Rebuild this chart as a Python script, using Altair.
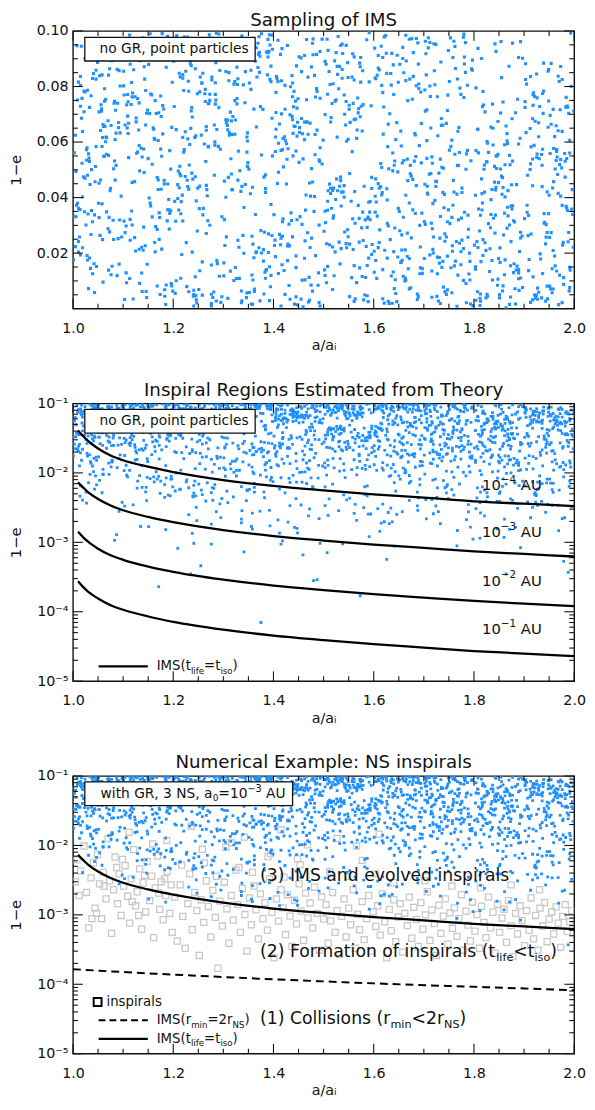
import altair as alt
import numpy as np
import pandas as pd

FONT = "DejaVu Sans"
BLUE = "#1e90ff"
GRAY = "#c8c8c8"
INK = "#111111"
W, H = 509, 282

# IMS sample: pairs (1000*(a/a_i - 1), 1e5*(1-e))
IMS = [
347,6182, 712,1937, 58,8421, 563,3075, 924,471, 281,9653, 836,4290, 109,7714, 675,2548, 492,5306,
874,2413, 156,9082, 429,5761, 618,356, 33,7249, 967,4830, 392,1507, 745,6674, 201,8915, 583,3198,
517,7390, 84,4628, 951,812, 263,9547, 779,2163, 438,6805, 604,8279, 172,3451, 889,5932, 326,1086,
247,205, 691,5873, 813,3362, 15,8046, 466,6719, 137,1284, 902,7458, 529,9801, 354,4137, 788,2570,
985,3624, 406,8357, 163,6093, 731,1842, 318,9275, 857,638, 71,5519, 642,2906, 551,7183, 224,4761,
658,9408, 371,2195, 724,4583, 118,7626, 845,5047, 590,3831, 276,94, 913,8362, 47,1519, 483,6270,
142,4905, 826,517, 538,9190, 309,6437, 667,2722, 92,8574, 756,3286, 415,5698, 938,7031, 253,1363,
451,5267, 976,3719, 288,1624, 804,305, 572,8842, 703,7115, 126,9370, 61,6558, 337,4402, 629,2981,
768,1208, 235,6491, 22,7835, 474,4053, 189,3564, 685,9727, 506,2340, 362,708, 821,5176, 949,8613,
39,8290, 545,7462, 612,2837, 991,5604, 217,1953, 384,4186, 437,6925, 868,3340, 793,166, 104,9538,
382,2751, 917,5390, 664,9846, 57,7108, 873,422, 209,3968, 561,8237, 738,1705, 145,6614, 426,4489,
706,6052, 183,679, 358,4371, 522,8925, 11,3610, 844,9267, 697,1441, 270,5823, 493,7577, 958,2094,
229,9781, 447,3203, 862,1759, 633,2486, 904,6338, 168,4725, 86,5160, 311,8499, 589,255, 772,7944,
534,4612, 819,7336, 66,6177, 241,512, 747,1894, 601,2069, 973,8720, 462,9115, 395,3752, 111,5441,
927,738, 649,8156, 418,2608, 152,3983, 343,7415, 28,5789, 296,9322, 577,6396, 714,4867, 886,1532,
175,7658, 5,2236, 783,8509, 962,5028, 409,9664, 556,1117, 324,6793, 851,388, 683,3429, 212,4354,
627,3077, 258,1685, 935,5552, 376,9899, 597,2312, 441,7826, 133,911, 74,4245, 808,6460, 751,8181,
838,5894, 514,6723, 195,3516, 457,1027, 266,4440, 729,276, 656,2659, 986,7292, 303,9604, 49,8867,
404,1876, 762,9446, 587,466, 892,6139, 121,8604, 944,2577, 19,4019, 671,3806, 284,7367, 349,5259,
94,6331, 333,4970, 273,7720, 719,2003, 638,5605, 101,8024, 879,1298, 486,9157, 956,573, 508,3545,
573,8713, 969,147, 364,3392, 186,9735, 735,6847, 42,1616, 616,5084, 811,2799, 478,4563, 237,7241,
216,3854, 677,7540, 8,9471, 856,4122, 431,835, 982,5308, 114,2465, 503,6988, 787,8048, 301,1180,
884,1391, 27,5727, 452,6519, 621,198, 159,9172, 367,8341, 740,3635, 282,4803, 998,2214, 542,7003,
781,9064, 469,6281, 138,617, 919,7777, 205,3147, 866,2902, 526,4673, 35,1450, 642,5316, 388,8421,
317,4281, 164,2047, 689,8806, 533,1611, 76,6597, 709,9392, 947,352, 423,7183, 834,3928, 294,5742,
908,2630, 592,3476, 848,1063, 225,8552, 355,7899, 614,4396, 499,6068, 178,9903, 62,5485, 766,89,
107,932, 703,9629, 244,4752, 412,6650, 933,1788, 327,7568, 53,8390, 663,2118, 519,3259, 827,5960,
694,7805, 873,1547, 971,5187, 2,3327, 548,2843, 147,400, 262,9028, 795,8634, 312,6245, 465,4091,
81,5037, 259,8478, 571,2395, 389,9220, 815,4676, 436,3174, 627,1822, 990,640, 727,7632, 126,6866,
448,6713, 374,7276, 752,3061, 685,4429, 230,8189, 926,5571, 893,2753, 15,1938, 192,9584, 561,261,
287,1734, 841,4558, 407,8278, 31,722, 654,6395, 516,3617, 398,9849, 913,5213, 776,2470, 132,7411,
724,9516, 70,2878, 965,5733, 579,7349, 336,216, 117,8145, 481,3504, 219,6169, 862,4025, 606,1091,
558,3240, 308,6602, 174,509, 951,2563, 897,9017, 748,7690, 6,4938, 672,8265, 421,1373, 270,5851,
101,8552, 641,5166, 822,7087, 341,1995, 58,3773, 249,4342, 770,6529, 455,345, 586,9682, 977,2286,
857,4718, 493,97, 39,1258, 716,5467, 153,7024, 621,9789, 905,8085, 359,2324, 206,6447, 535,3699,
379,7176, 508,3868, 227,9287, 668,4611, 989,2742, 84,6086, 168,814, 849,1803, 733,5384, 446,8745,
19,2192, 922,6751, 707,4410, 428,9476, 292,1166, 352,581, 525,7519, 659,3292, 184,8957, 804,5693,
631,186, 142,8711, 317,6275, 816,3555, 562,4219, 415,2540, 233,5914, 98,9255, 937,7749, 754,1475,
952,5588, 211,9010, 696,3442, 109,6935, 472,303, 889,1327, 395,8176, 717,2880, 44,4571, 541,7695,
487,6430, 779,1020, 54,2641, 264,7896, 603,8318, 941,3110, 827,452, 596,4727, 333,9717, 195,5024,
301,1649, 883,7057, 512,4484, 120,9599, 930,5402, 23,3491, 771,2355, 286,276, 652,8800, 439,6311,
679,8366, 90,2522, 251,690, 996,4287, 404,6182, 574,9045, 155,3701, 323,7491, 790,1248, 841,5125,
191,3932, 557,5656, 876,6840, 761,1541, 372,8508, 240,452, 617,4181, 417,9366, 11,2038, 918,7319,
804,7952, 362,621, 479,9142, 73,2766, 502,1396, 736,5091, 964,6586, 635,8049, 219,3158, 176,4302,
208,9627, 711,4845, 106,2978, 657,5244, 65,7530, 462,6724, 384,1097, 987,3537, 864,35, 528,8436,
581,4406, 954,6641, 665,8920, 346,398, 273,3005, 852,2191, 29,7868, 160,9442, 491,5362, 727,1858,
67,6161, 453,3316, 921,7643, 519,8099, 745,515, 129,9694, 871,5519, 237,4880, 380,1712, 693,2219,
789,2861, 624,9839, 357,1213, 401,3386, 816,4142, 902,7247, 295,227, 553,6707, 136,5779, 46,8585,
979,874, 113,1088, 33,5298, 838,6498, 609,9118, 329,4631, 549,8326, 742,2427, 444,7474, 260,3611,
426,5937, 277,8239, 769,3199, 914,2690, 170,6057, 590,1822, 688,9570, 82,7399, 807,608, 305,4014,
147,7037, 959,5766, 442,164, 605,3841, 366,9395, 791,2001, 224,6372, 875,4461, 92,1605, 513,8074,
648,4926, 314,1350, 24,9003, 282,6616, 893,2547, 537,8613, 940,3078, 483,5542, 716,413, 119,7765,
818,1917, 564,6824, 231,4300, 734,8885, 489,842, 181,7189, 660,5337, 339,2639, 993,9931, 52,3280,
344,9352, 13,3566, 866,6049, 577,1159, 925,5454, 687,334, 125,2075, 705,8419, 253,7808, 408,4513,
758,3726, 473,2203, 530,7920, 158,5199, 244,8640, 973,4054, 389,9061, 60,957, 619,6287, 889,1404,
77,8932, 674,753, 140,2106, 371,9791, 509,4246, 834,6539, 417,1580, 909,3361, 787,5700, 202,7282,
552,2324, 236,7117, 948,8548, 821,4197, 1,1763, 435,3450, 798,111, 630,5035, 185,9176, 319,6922,
266,6558, 855,4774, 662,1002, 43,584, 722,3899, 393,9495, 595,7306, 165,2953, 438,8128, 981,5588,
936,5167, 783,9580, 303,2273, 466,7525, 646,6700, 88,1189, 218,4089, 505,8800, 881,3120, 103,332,
459,66, 150,5404, 753,9750, 692,3000, 328,8071, 245,6223, 814,1694, 36,7669, 917,4428, 542,2761,
603,3476, 994,8010, 132,5877, 491,219, 57,7196, 508,1524, 348,6038, 780,9887, 229,4397, 859,2654,
386,9247, 582,491, 807,6460, 210,4959, 745,2579, 9,3798, 968,8372, 601,1311, 171,7055, 420,5106,
96,4052, 248,7740, 463,2440, 929,6192, 842,9535, 655,5860, 199,630, 571,3253, 767,8269, 361,1835,
893,1102, 611,2384, 257,8117, 116,9307, 398,5502, 738,6614, 524,3930, 447,7222, 21,4744, 953,713,
515,6880, 48,9649, 392,289, 701,3134, 189,4490, 476,8709, 640,2054, 829,5630, 910,1771, 285,7508,
172,2497, 351,5026, 984,3685, 63,7922, 566,938, 200,9118, 725,4577, 682,6310, 870,8732, 410,1264,
712,8021, 876,3590, 83,7464, 535,2161, 669,1436, 943,270, 427,5380, 154,9902, 316,6764, 239,4666,
279,404, 433,6983, 626,4318, 846,5497, 976,8255, 107,7338, 30,3408, 375,2812, 760,9632, 596,1957,
918,7707, 76,1219, 558,9180, 369,8683, 419,3236, 824,2098, 266,6427, 708,4119, 687,529, 129,5643,
497,5209, 776,4339, 111,6679, 618,1405, 272,9860, 356,169, 801,2289, 999,7119, 14,3572, 503,8907,
51,9472, 867,3651, 324,1482, 549,6103, 673,4857, 214,8349, 926,7591, 183,445, 468,2733, 794,5328,
656,2112, 124,7632, 739,5059, 297,3309, 958,706, 452,6348, 71,9159, 335,4224, 880,1617, 511,8543,
302,4591, 935,390, 574,8157, 889,9044, 141,2935, 771,5623, 643,1042, 26,3013, 221,7857, 405,6461,
848,6740, 265,5302, 39,3129, 475,847, 383,1310, 166,7026, 532,4406, 732,2540, 970,8186, 676,9723,
587,1555, 634,8470, 412,2677, 133,4963, 714,6507, 906,3722, 290,5846, 808,9375, 358,155, 89,7396,
203,3865, 5,6245, 854,9619, 961,1895, 440,7272, 664,4085, 756,573, 340,8060, 545,2344, 177,5487,
785,212, 391,9266, 609,4502, 18,7574, 520,3347, 837,1033, 114,8804, 443,6559, 213,5131, 988,2411,
143,8266, 501,2788, 246,318, 767,5159, 815,9009, 60,6631, 901,3244, 659,1169, 486,7927, 310,4728,
418,5727, 831,1340, 949,7480, 376,2004, 34,4473, 720,9541, 561,6806, 227,795, 158,3306, 690,8093,
972,7165, 457,3037, 197,6527, 639,8780, 258,488, 576,2908, 337,9828, 67,5562, 707,4162, 861,1220,
365,2019, 742,611, 73,8639, 937,5741, 615,9452, 276,1571, 844,4367, 422,6188, 116,7350, 593,3203,
684,5482, 231,7829, 521,1183, 871,3015, 179,6294, 41,8465, 470,241, 954,2737, 309,9354, 759,4620,
11,8157, 536,4198, 718,3781, 286,9920, 438,2585, 991,6064, 102,7694, 347,569, 667,1878, 825,5295,
897,760, 188,3161, 405,7788, 567,6432, 792,1031, 316,4849, 625,9200, 254,8341, 912,5010, 97,2581,
238,6904, 655,1687, 985,5409, 55,4635, 364,8911, 812,115, 559,2132, 781,3471, 455,9033, 149,7151,
514,4335, 903,8819, 381,528, 137,2210, 867,5945, 640,7713, 86,6322, 479,9715, 749,3558, 206,1003,
704,9178, 27,5345, 268,4066, 697,1272, 940,3423, 192,2866, 344,8537, 853,7047, 580,317, 462,6088,
118,3012, 434,7994, 671,9701, 323,8183, 70,6766, 785,5576, 979,1119, 215,4791, 822,2372, 518,689,
956,1437, 397,6856, 833,2913, 416,7014, 222,9790, 555,3869, 726,443, 3,5616, 611,8598, 170,4292,
449,7560, 818,2486, 162,6134, 733,186, 541,4017, 292,9517, 607,3331, 992,1383, 45,5119, 329,8280,
644,548, 123,4577, 931,7279, 211,3553, 484,1909, 862,5182, 373,9091, 527,8725, 774,2052, 64,6571,
277,8344, 763,1714, 414,2300, 17,9451, 628,5834, 306,6693, 946,4205, 196,901, 877,3708, 570,7205,
32,5421, 355,9587, 504,3098, 849,4540, 110,7451, 923,380, 693,1468, 432,2261, 283,6005, 797,8951,
808,2203, 589,3295, 91,6706, 660,8497, 747,676, 145,7859, 252,9418, 964,5337, 471,1128, 384,4819,
546,6029, 976,219, 701,1806, 330,5674, 80,3185, 423,8041, 896,2618, 263,7740, 638,4961, 157,9290,
321,1015, 270,7388, 678,4650, 531,2398, 912,6489, 37,3530, 722,8066, 128,9661, 858,821, 493,5793,
730,4883, 695,5250, 189,9806, 445,426, 390,2694, 803,1510, 568,7587, 19,6379, 997,3392, 234,8818,
139,9039, 59,6166, 395,8733, 965,1356, 843,4273, 241,97, 410,5958, 649,3612, 508,7722, 718,2134,
464,3550, 523,2046, 812,373, 104,6614, 228,9623, 784,5019, 75,4332, 311,8207, 604,1733, 939,7837,
920,5879, 889,1284, 215,3416, 52,7087, 578,8569, 616,4094, 176,6919, 757,2266, 369,9559, 478,633,
627,3915, 284,8136, 851,506, 473,6682, 38,9217, 946,2743, 315,5398, 569,7051, 182,4624, 736,1487,
164,7493, 719,2581, 348,5126, 927,341, 552,4867, 71,8409, 836,1735, 205,9672, 683,6254, 491,3008,
813,265, 46,5841, 537,9528, 269,3164, 774,7716, 332,1092, 968,6407, 611,4341, 428,2259, 151,8798,
456,6849, 909,1368, 117,3517, 647,9125, 376,5533, 702,4478, 15,8362, 882,719, 575,7287, 238,2036,
392,9861, 518,4259, 747,7134, 59,2487, 148,1601, 817,3806, 297,428, 441,6577, 975,5072, 664,8214,
932,1973, 602,9384, 24,4702, 763,8651, 419,6128, 186,851, 588,3246, 357,2610, 844,5497, 271,7380,
83,5319, 309,372, 652,2804, 129,7568, 954,8835, 534,9479, 467,6733, 788,3367, 244,1151, 803,4083,
546,2193, 866,6305, 212,8478, 381,4735, 637,197, 404,5662, 758,9044, 106,1290, 7,3724, 984,7609,
721,8566, 193,3429, 445,1477, 872,5184, 226,2378, 690,7927, 52,4516, 917,6839, 336,634, 509,9301,
253,4411, 487,7825, 961,6196, 561,1548, 829,3062, 144,2267, 616,8043, 31,5575, 709,9756, 373,281,
671,712, 995,3583, 327,8697, 69,9031, 751,5709, 287,6451, 132,2142, 858,4359, 523,7472, 462,1816,
361,7187, 18,5235, 891,2061, 584,1124, 167,9596, 738,4188, 433,339, 906,3472, 219,8303, 629,6644,
842,2722, 414,9159, 603,4046, 197,819, 573,6912, 983,7256, 62,5483, 235,8922, 385,1384, 775,3259,
108,6506, 648,1862, 591,9935, 944,3027, 29,4805, 352,8126, 713,7639, 871,154, 476,2539, 262,5928,
557,8337, 228,4624, 93,3193, 458,6297, 924,487, 803,1419, 679,9222, 175,5746, 742,2695, 314,7078,
965,5664, 784,906, 179,7313, 305,8540, 664,1021, 429,2329, 246,3883, 87,9467, 826,6018, 541,4432,
497,9708, 126,6726, 937,1264, 622,2105, 887,7542, 43,3378, 514,4147, 393,8259, 204,549, 769,5152,
78,1526, 548,8862, 706,5413, 267,4287, 341,3641, 913,226, 864,6578, 403,2469, 636,9194, 155,7733,
733,3318, 366,2045, 241,663, 818,7821, 482,8402, 566,6131, 113,9856, 657,1742, 959,4573, 37,5006,
276,183, 837,7364, 451,9073, 727,1257, 161,6462, 675,4771, 978,2386, 503,3514, 58,5839, 321,8084,
596,4327, 11,2418, 644,6089, 398,9342, 852,1669, 293,8576, 418,3129, 929,592, 780,7605, 138,5462,
877,9564, 347,5637, 173,3283, 991,764, 609,2198, 716,1356, 24,7809, 256,6251, 532,8725, 482,4038,
312,6337, 689,438, 903,8254, 36,2671, 232,5172, 466,9691, 528,4244, 774,1583, 154,3801, 858,7442,
192,3559, 952,6962, 512,2304, 741,4117, 85,7147, 826,5288, 629,269, 372,9228, 445,1903, 219,8431,
618,7779, 431,3045, 283,5891, 591,8168, 946,812, 55,6416, 359,1032, 168,2853, 893,9617, 724,4398,
918,1143, 207,9833, 885,4466, 141,5751, 302,3206, 559,7394, 765,2417, 94,8021, 695,6672, 448,137,
416,8209, 792,1701, 63,7468, 834,3392, 545,9481, 120,347, 213,4862, 681,5314, 380,2126, 976,6383,
13,2581, 182,4492, 394,788, 658,9009, 728,6226, 939,8844, 405,7062, 879,3167, 222,5728, 572,1468,
754,5846, 537,8299, 671,1806, 291,7239, 104,2739, 366,6541, 809,3588, 968,4151, 41,9412, 423,514,
229,6114, 389,9696, 848,5562, 71,1387, 626,8473, 703,3036, 146,619, 585,2244, 958,7178, 472,4527,
506,931, 982,4738, 438,7631, 110,6308, 259,3377, 663,1106, 99,9143, 797,8586, 329,2462, 820,5023,
861,3442, 632,7018, 28,1916, 549,2588, 493,9262, 245,468, 936,4393, 308,6788, 717,5237, 186,8692,
115,9421, 72,3289, 766,4125, 337,286, 971,1209, 424,6047, 551,7327, 809,5611, 607,8407, 248,2799,
654,1665, 459,5394, 134,8927, 868,4252, 17,6856, 507,9703, 390,2021, 273,7502, 921,491, 747,3131,
344,4469, 890,658, 948,6531, 685,8028, 578,3475, 163,2382, 215,1097, 47,9355, 439,5503, 706,7159,
987,7252, 33,1824, 252,3602, 476,5045, 779,9778, 318,4283, 641,722, 527,6176, 123,2557, 855,8319,
402,2274, 236,8749, 563,353, 712,9586, 667,5386, 874,3693, 157,7701, 907,4806, 65,6012, 395,1197,
88,8617, 735,6602, 370,9166, 102,3154, 817,7275, 646,252, 962,1541, 445,5679, 520,4341, 266,2706,
762,5559, 177,2145, 839,3256, 503,1193, 281,599, 9,7516, 469,8338, 618,9047, 323,6279, 950,4086,
569,3719, 386,1404, 614,5228, 929,6693, 410,4915, 198,8156, 757,2067, 847,842, 291,9889, 56,7344,
202,9174, 668,7493, 81,2489, 883,166, 355,8584, 490,1287, 973,5366, 131,6435, 715,3081, 539,4207,
824,388, 160,6517, 781,8809, 221,5633, 943,2332, 593,3861, 338,9527, 604,4672, 22,7093, 428,1732,
305,6798, 957,4344, 463,1038, 46,8265, 678,3557, 749,9298, 813,528, 284,7715, 518,2219, 127,5599,
170,4638, 409,8175, 620,7264, 579,2454, 756,6069, 231,611, 6,3312, 991,1486, 877,5314, 362,9465,
692,1259, 51,3796, 914,5825, 327,7374, 139,9745, 832,2156, 544,6613, 456,8538, 739,775, 209,4467,
484,7624, 561,9066, 185,152, 760,4201, 29,1753, 966,5464, 257,8133, 348,6332, 651,3504, 806,2413,
925,8449, 276,521, 534,4736, 639,1322, 853,5028, 397,2636, 478,9557, 114,3217, 91,6521, 702,7876,
67,3486, 861,5901, 243,6163, 415,94, 587,2927, 609,8667, 731,1638, 989,7031, 149,9283, 384,4321,
768,6387, 331,2213, 34,9728, 949,3424, 264,7462, 118,4546, 673,5161, 552,433, 889,1076, 437,8391,
525,9219, 776,4182, 843,3368, 193,5693, 635,1174, 447,6214, 917,318, 285,8856, 306,2584, 15,7287,
]

# additional low-(1-e) IMS points visible on the log panels, same units
IMS_LOW = [
412,583, 87,129, 936,702, 255,46, 671,918, 503,337, 148,864, 789,275, 320,451, 864,690,
705,218, 361,977, 19,405, 582,631, 893,84, 226,746, 447,159, 958,523, 634,312, 171,889,
129,761, 846,390, 573,17, 307,548, 981,226, 45,905, 692,673, 238,135, 760,480, 415,852,
956,342, 278,615, 631,894, 83,107, 446,739, 719,258, 194,466, 507,71, 865,983, 362,527,
538,95, 692,816, 213,573, 907,382, 15,649, 374,930, 821,241, 466,704, 151,168, 749,427,
283,679, 14,463, 767,148, 439,921, 608,305, 852,532, 396,859, 171,23, 945,717, 530,286,
671,402, 109,874, 487,29, 902,655, 336,190, 243,763, 58,518, 815,947, 724,336, 591,121,
34,953, 926,577, 358,264, 641,88, 195,815, 877,402, 503,631, 412,136, 268,720, 789,349,
861,216, 457,738, 702,962, 293,357, 540,481, 128,604, 979,53, 615,189, 386,876, 26,529,
479,614, 235,35, 154,827, 688,288, 821,563, 393,172, 917,746, 72,951, 546,409, 760,860,
718,789, 594,256, 860,118, 47,672, 265,394, 931,905, 382,441, 626,57, 145,533, 409,210,
190,480, 771,692, 326,903, 509,245, 988,37, 653,811, 27,366, 846,157, 433,728, 214,584,
612,144, 348,556, 53,781, 874,999, 727,610, 480,28, 995,325, 161,876, 239,463, 566,207,
887,308, 60,947, 511,422, 135,169, 399,751, 209,82, 746,638, 922,519, 657,277, 304,895,
256,566, 418,105, 968,344, 723,812, 92,280, 587,650, 634,917, 341,73, 806,436, 175,759,
543,856, 817,631, 231,251, 375,7, 650,908, 98,377, 429,195, 162,742, 970,564, 704,412,
318,1472, 756,1038, 94,1815, 627,1296, 481,1663, 905,1127, 233,1904, 540,1351, 172,1589, 869,1740,
683,1206, 127,1938, 459,1547, 812,1081, 36,1374, 294,1692, 978,1413, 571,1865, 745,1059, 405,1728,
902,1635, 567,1190, 278,1027, 103,1781, 820,1449, 645,1973, 351,1306, 17,1522, 498,1258, 731,1857,
254,1911, 433,1364, 681,1702, 959,1095, 509,1280, 79,1476, 796,1623, 315,1144, 837,1818, 166,1039,
541,1087, 870,1529, 13,1263, 388,1946, 266,1710, 713,1385, 157,1831, 924,1617, 617,1172, 472,1499,
796,1759, 221,1602, 945,1931, 60,1122, 452,1018, 339,1446, 583,1287, 680,1883, 124,1535, 867,1350,
407,1319, 682,1875, 149,1460, 834,1658, 993,1211, 571,1777, 264,1134, 725,1999, 327,1586, 41,1047,
128,1564, 973,1245, 619,1093, 282,1330, 745,1852, 51,1707, 849,1468, 346,1921, 519,1619, 468,1176,
677,1826, 304,1117, 793,1641, 466,1389, 185,1273, 532,1058, 918,1712, 77,1434, 245,1960, 856,1528,
851,1401, 46,1693, 358,1820, 592,1236, 719,1574, 206,1967, 447,1152, 983,1300, 102,1075, 634,1745,
563,2714, 186,2390, 827,2068, 342,2856, 695,2531, 9,2177, 470,2963, 911,2425, 258,2602, 749,2289,
238,2155, 925,2810, 77,2473, 609,2926, 458,2064, 781,2347, 319,2681, 146,2519, 873,2200, 530,2790,
794,2603, 407,2018, 641,2378, 115,2740, 986,2931, 270,2225, 532,2862, 869,2486, 353,2111, 28,2657,
41,2889, 659,2562, 376,2247, 857,2404, 203,2020, 518,2995, 972,2710, 124,2334, 735,2179, 497,2623,
412,2439, 816,2718, 253,2946, 538,2082, 67,2265, 690,2581, 159,2806, 936,2140, 303,2372, 774,2911,
955,2056, 112,2637, 714,2833, 289,2297, 601,2478, 837,2761, 476,2159, 3,2590, 582,2904, 361,2315,
624,3482, 139,3817, 871,3105, 390,3653, 52,3279, 758,3961, 215,3538, 483,3046, 946,3724, 567,3390,
308,3168, 715,3597, 466,3843, 929,3327, 187,3031, 602,3712, 81,3476, 840,3259, 255,3935, 531,3604,
773,3884, 44,3240, 593,3419, 237,3077, 982,3566, 418,3792, 656,3133, 121,3355, 359,3958, 887,3621,
]

# inspirals (grey squares), pairs (1000*(a/a_i - 1), 1e6*(1-e))
INSPIRALS = [
8,6200, 15,4300, 22,9800, 27,2100, 31,650, 36,3400, 41,5600, 44,1250, 49,7400, 53,2800,
57,880, 61,4100, 66,1700, 70,12500, 73,3100, 77,540, 81,2300, 84,6800, 89,1450, 92,3900,
96,980, 101,2600, 104,5100, 109,1850, 113,760, 116,3300, 121,8700, 125,1350, 128,2150, 133,4600,
137,620, 140,2900, 145,1100, 148,5900, 153,1600, 157,3600, 161,470, 164,2450, 169,7100, 173,1200,
176,3000, 180,850, 185,1900, 188,4200, 193,1050, 196,2700, 12,1900, 38,880, 62,2600, 87,4800,
118,1550, 143,3700, 171,2050, 198,560, 5,3000, 47,1050, 99,6300, 131,980, 159,10500, 183,3300,
203,1800, 208,420, 214,2700, 219,950, 224,330, 229,1450, 233,3900, 238,610, 243,2100, 247,1150,
252,260, 256,1650, 261,780, 266,3100, 270,1320, 275,480, 279,2250, 284,920, 289,170, 293,1580,
298,690, 302,2950, 307,1220, 311,390, 316,1900, 320,840, 325,4400, 329,1400, 334,560, 338,2400,
343,1010, 347,300, 352,1750, 356,720, 361,2600, 365,1180, 370,450, 374,2000, 379,880, 383,1500,
388,600, 392,3300, 397,1090, 401,240, 406,1700, 410,810, 415,2300, 419,1260, 424,520, 428,1950,
433,960, 437,350, 442,1620, 446,740, 451,2800, 455,1130, 460,430, 464,2050, 469,900, 473,1480,
478,650, 482,2500, 487,1050, 491,310, 496,1820, 500,870, 217,5200, 286,3600, 358,4100, 421,3500,
258,8800, 394,7600, 448,6400, 316,11000,
505,1400, 509,390, 514,820, 518,2100, 523,560, 527,1150, 532,270, 536,950, 541,1700, 545,480,
550,1250, 554,720, 559,2300, 563,330, 568,1020, 572,610, 577,1550, 581,440, 586,880, 590,1900,
595,300, 599,1100, 604,680, 608,1350, 613,510, 617,2000, 622,790, 626,240, 631,1200, 635,590,
640,1650, 644,410, 649,930, 653,1450, 658,290, 662,1050, 667,700, 671,1800, 676,460, 680,1280,
685,860, 689,350, 694,1500, 698,620, 703,1000, 707,2150, 712,430, 716,1180, 721,750, 725,260,
730,1380, 734,540, 739,960, 743,1700, 748,380, 752,1070, 757,640, 761,1260, 766,490, 770,880,
775,1950, 779,310, 784,1130, 788,710, 793,420, 797,1520, 802,580, 806,1010, 811,330, 815,1330,
820,780, 824,470, 829,1800, 833,650, 838,1090, 842,280, 847,1420, 851,560, 856,900, 860,1200,
865,400, 869,1600, 874,700, 878,250, 883,1050, 887,530, 892,1350, 896,830, 901,360, 905,1150,
910,600, 914,1750, 919,450, 923,980, 928,310, 932,1250, 937,690, 941,1500, 946,410, 950,870,
955,1100, 959,530, 964,1300, 968,760, 973,340, 977,950, 982,1400, 986,580, 991,800, 995,1150,
112,15500, 187,11800, 236,18900, 305,9400, 342,13200, 415,16800, 468,10200, 527,12600, 566,9800, 611,14500,
262,5600, 331,4800, 389,6900, 453,5300, 512,4200, 577,6100, 548,3600, 603,3900, 640,2900, 702,3100,
756,2600, 813,2450, 874,2700, 931,2300,
]

# IMS(t_life = t_iso) curves for a0 = 1e-4, 1e-3, 1e-2, 1e-1 AU
CURVE_A = [1.01, 1.02, 1.03, 1.05, 1.075, 1.1, 1.15, 1.2, 1.3, 1.4, 1.5, 1.6, 1.7, 1.8, 1.9, 2.0]
C_1E4 = [0.041, 0.034, 0.029, 0.0225, 0.0178, 0.0152, 0.0123, 0.0103, 0.0079, 0.0065, 0.0056, 0.0049, 0.0044, 0.0039, 0.0036, 0.00333]
C_1E3 = [0.0073, 0.0062, 0.0053, 0.0042, 0.0034, 0.0029, 0.00232, 0.00195, 0.0015, 0.00123, 0.00106, 0.00093, 0.00083, 0.00074, 0.00068, 0.000625]
C_1E2 = [0.00142, 0.00119, 0.00102, 0.00081, 0.00065, 0.00056, 0.000448, 0.000376, 0.00029, 0.000238, 0.000205, 0.00018, 0.00016, 0.000143, 0.000131, 0.000121]
C_1E1 = [0.000275, 0.000228, 0.000195, 0.000155, 0.000124, 0.000107, 0.0000855, 0.0000716, 0.0000552, 0.0000453, 0.000039, 0.0000343, 0.0000305, 0.0000272, 0.000025, 0.000023]
# IMS(r_min = 2 r_NS)
DASH_A = [1.0, 1.1, 1.2, 1.3, 1.4, 1.5, 1.6, 1.7, 1.8, 1.9, 2.0]
DASH_Y = [1.65e-4, 1.5e-4, 1.38e-4, 1.27e-4, 1.18e-4, 1.1e-4, 1.03e-4, 9.7e-5, 9.2e-5, 8.7e-5, 8.2e-5]

X_MAJOR = [1.0, 1.2, 1.4, 1.6, 1.8, 2.0]
X_MINOR = [1.05, 1.1, 1.15, 1.25, 1.3, 1.35, 1.45, 1.5, 1.55, 1.65, 1.7, 1.75, 1.85, 1.9, 1.95]
LIN_MAJOR = [0.02, 0.04, 0.06, 0.08, 0.10]
LIN_MINOR = [0.005, 0.01, 0.015, 0.025, 0.03, 0.035, 0.045, 0.05, 0.055, 0.065, 0.07, 0.075, 0.085, 0.09, 0.095]
LOG_MAJOR = [1e-5, 1e-4, 1e-3, 1e-2, 1e-1]
LOG_MANT = [2, 3, 4, 5, 6, 7, 8, 9]
LOG_MINOR = [m * d for d in LOG_MAJOR[:-1] for m in LOG_MANT]

# ---------------------------------------------------------------- data frames
ims = np.array(IMS, dtype=float).reshape(-1, 2)
ims_df = pd.DataFrame({"x": 1 + ims[:, 0] / 1000, "y": ims[:, 1] * 1e-5})
low = np.array(IMS_LOW, dtype=float).reshape(-1, 2)
low_df = pd.DataFrame({"x": 1 + low[:, 0] / 1000, "y": low[:, 1] * 1e-5})
log_df = pd.concat([ims_df, low_df], ignore_index=True)
log_df = log_df[log_df["y"] >= 1e-5].reset_index(drop=True)

thr = 10 ** np.interp(log_df["x"], CURVE_A, np.log10(C_1E3))
keep = (log_df["y"] > thr) | (np.arange(len(log_df)) % 6 == 0)
gr_df = log_df[keep].reset_index(drop=True)

sq = np.array(INSPIRALS, dtype=float).reshape(-1, 2)
sq_df = pd.DataFrame({"x": 1 + sq[:, 0] / 1000, "y": sq[:, 1] * 1e-6})

curves = []
for name, vals in [("1e-4", C_1E4), ("1e-3", C_1E3), ("1e-2", C_1E2), ("1e-1", C_1E1)]:
    for a, v in zip(CURVE_A, vals):
        curves.append({"x": a, "y": v, "c": name})
curves_df = pd.DataFrame(curves)
solid_df = curves_df[curves_df["c"] == "1e-3"]
dash_df = pd.DataFrame({"x": DASH_A, "y": DASH_Y})

ONE = pd.DataFrame({"k": [0]})

# ---------------------------------------------------------------- scales / axes
xs = alt.Scale(domain=[1, 2], nice=False, zero=False)
ys_lin = alt.Scale(domain=[0, 0.1], nice=False, zero=False)
ys_log = alt.Scale(type="log", domain=[1e-5, 0.1], nice=False)

common = dict(grid=False, ticks=False, tickSize=0, domain=False, labelFont=FONT,
              titleFont=FONT, labelColor=INK, titleColor=INK, titleFontWeight="normal")
xa = alt.Axis(values=X_MAJOR, format=".1f", title="a/aᵢ", labelFontSize=14.5,
              labelPadding=13, titleFontSize=14.5, titlePadding=4, labelFlush=False, **common)
ya_lin = alt.Axis(values=LIN_MAJOR, format=".2f", title="1−e", labelFontSize=14.5,
                  labelPadding=5, titleFontSize=15, titlePadding=12, minExtent=38,
                  maxExtent=38, **common)
LOG_EXPR = ("datum.value > 0.05 ? '10⁻¹' : datum.value > 0.005 ? '10⁻²' : "
            "datum.value > 0.0005 ? '10⁻³' : datum.value > 0.00005 ? '10⁻⁴' : '10⁻⁵'")
ya_log = alt.Axis(values=LOG_MAJOR, labelExpr=LOG_EXPR, title="1−e", labelFontSize=14.5,
                  labelPadding=5, titleFontSize=15, titlePadding=12, minExtent=38,
                  maxExtent=38, **common)

W_EM = {" ": 0.318, "(": 0.39, ")": 0.39, ",": 0.318, "-": 0.361, ".": 0.318, "/": 0.337,
        ":": 0.337, "<": 0.838, "=": 0.838, "−": 0.838, "A": 0.684, "C": 0.698, "E": 0.632,
        "F": 0.575, "G": 0.775, "I": 0.295, "M": 0.863, "N": 0.748, "R": 0.695, "S": 0.635,
        "T": 0.611, "U": 0.732, "a": 0.613, "c": 0.55, "d": 0.635, "e": 0.615, "f": 0.352,
        "g": 0.635, "h": 0.634, "i": 0.278, "l": 0.278, "m": 0.974, "n": 0.634, "o": 0.612,
        "p": 0.635, "r": 0.411, "s": 0.521, "t": 0.392, "v": 0.592, "w": 0.818, "x": 0.592,
        "y": 0.592}


def tw(s, size):
    return sum(W_EM.get(c, 0.636) for c in s) * size


def piece_size(k, size):
    return size if k == "n" else size * (0.65 if k == "s" else 0.7)


def rich(pieces, x0, y0, size, align="left"):
    total = sum(tw(t, piece_size(k, size)) for t, k in pieces)
    x = x0 if align == "left" else x0 - total
    out = []
    for t, k in pieces:
        s = piece_size(k, size)
        dy = {"n": 0, "s": 0.33 * size, "p": -0.36 * size}[k]
        lead = len(t) - len(t.lstrip(" "))
        x += tw(" " * lead, s)
        body = t.lstrip(" ")
        out.append(alt.Chart(ONE).mark_text(align="left", baseline="middle", fontSize=s,
                                            font=FONT, color=INK, dy=dy)
                   .encode(x=alt.value(x), y=alt.value(y0), text=alt.value(body)))
        x += tw(body, s)
    return out


def text(t, x, y, size, align="left", baseline="middle"):
    return (alt.Chart(ONE).mark_text(align=align, baseline=baseline, fontSize=size,
                                     font=FONT, color=INK)
            .encode(x=alt.value(x), y=alt.value(y), text=alt.value(t)))


def ptitle(t, y):
    return text(t, W / 2, y, 18.5, align="center", baseline="alphabetic")


def box(x1, x2, y1, y2):
    return (alt.Chart(ONE).mark_rect(fill="white", stroke=INK, strokeWidth=1.3)
            .encode(x=alt.value(x1), x2=alt.value(x2), y=alt.value(y1), y2=alt.value(y2)))


def frame_ticks(ymaj, ymin_, ys, ya):
    out = []
    for vals, L in [(X_MAJOR, 10), (X_MINOR, 5)]:
        d = pd.DataFrame({"x": vals})
        b = alt.Chart(d).mark_rule(color=INK, strokeWidth=1.1)
        xe = alt.X("x:Q", scale=xs, axis=xa)
        out.append(b.encode(x=xe, y=alt.value(H), y2=alt.value(H - L)))
        out.append(b.encode(x=xe, y=alt.value(0), y2=alt.value(L)))
    for vals, L in [(ymaj, 10), (ymin_, 5)]:
        d = pd.DataFrame({"y": vals})
        b = alt.Chart(d).mark_rule(color=INK, strokeWidth=1.1)
        ye = alt.Y("y:Q", scale=ys, axis=ya)
        out.append(b.encode(y=ye, x=alt.value(0), x2=alt.value(L)))
        out.append(b.encode(y=ye, x=alt.value(W), x2=alt.value(W - L)))
    return out


def pts(df, ys, ya, size):
    return (alt.Chart(df).mark_square(size=size, color=BLUE, opacity=1, clip=True)
            .encode(x=alt.X("x:Q", scale=xs, axis=xa), y=alt.Y("y:Q", scale=ys, axis=ya)))


# ---------------------------------------------------------------- panel 1
p1_layers = [pts(ims_df, ys_lin, ya_lin, 10)]
p1_layers += frame_ticks(LIN_MAJOR, LIN_MINOR, ys_lin, ya_lin)
p1_layers += [box(12, 185, 6.5, 30.5), text("no GR, point particles", 27, 18.5, 14)]
p1_layers.append(ptitle("Sampling of IMS", -5.5))
p1 = alt.layer(*p1_layers).properties(width=W, height=H)

# ---------------------------------------------------------------- panel 2
p2_layers = [pts(log_df, ys_log, ya_log, 8)]
p2_layers.append(alt.Chart(curves_df).mark_line(color="black", strokeWidth=2.3, interpolate="monotone")
                 .encode(x=alt.X("x:Q", scale=xs, axis=xa), y=alt.Y("y:Q", scale=ys_log, axis=ya_log),
                         detail="c:N"))
p2_layers += frame_ticks(LOG_MAJOR, LOG_MINOR, ys_log, ya_log)
for sup, yy in [("−4", 83), ("−3", 131), ("−2", 180), ("−1", 229)]:
    p2_layers += rich([("10", "n"), (sup, "p"), (" AU", "n")], 476, yy, 15, align="right")
p2_layers += [box(12, 185, 6, 30), text("no GR, point particles", 27, 18, 14)]
p2_layers.append(alt.Chart(ONE).mark_rule(color="black", strokeWidth=2.3)
                 .encode(x=alt.value(26), x2=alt.value(76), y=alt.value(267)))
p2_layers += rich([("IMS(t", "n"), ("life", "s"), ("=t", "n"), ("iso", "s"), (")", "n")], 85, 267, 13.5)
p2_layers.append(ptitle("Inspiral Regions Estimated from Theory", -8))
p2 = alt.layer(*p2_layers).properties(width=W, height=H)

# ---------------------------------------------------------------- panel 3
p3_layers = [alt.Chart(sq_df).mark_point(shape="square", filled=False, size=38, color=GRAY,
                                         strokeWidth=1.3, opacity=1, clip=True)
             .encode(x=alt.X("x:Q", scale=xs, axis=xa), y=alt.Y("y:Q", scale=ys_log, axis=ya_log))]
p3_layers.append(pts(gr_df, ys_log, ya_log, 8))
p3_layers.append(alt.Chart(solid_df).mark_line(color="black", strokeWidth=2.3, interpolate="monotone")
                 .encode(x=alt.X("x:Q", scale=xs, axis=xa), y=alt.Y("y:Q", scale=ys_log, axis=ya_log)))
p3_layers.append(alt.Chart(dash_df).mark_line(color="black", strokeWidth=2, strokeDash=[8, 5],
                                              interpolate="monotone")
                 .encode(x=alt.X("x:Q", scale=xs, axis=xa), y=alt.Y("y:Q", scale=ys_log, axis=ya_log)))
p3_layers += frame_ticks(LOG_MAJOR, LOG_MINOR, ys_log, ya_log)
p3_layers += [box(12, 223, 6, 30)]
p3_layers += rich([("with GR, 3 NS, a", "n"), ("0", "s"), ("=10", "n"), ("−3", "p"), (" AU", "n")],
                  28, 18, 14)
p3_layers += rich([("(3) IMS and evolved inspirals", "n")], 190, 102, 17.5)
p3_layers += rich([("(2) Formation of inspirals (t", "n"), ("life", "s"), ("<t", "n"),
                   ("iso", "s"), (")", "n")], 190, 179, 17.5)
p3_layers += rich([("(1) Collisions (r", "n"), ("min", "s"), ("<2r", "n"), ("NS", "s"),
                   (")", "n")], 190, 247, 17.5)
p3_layers.append(alt.Chart(ONE).mark_point(shape="square", filled=False, size=64, color="black",
                                           strokeWidth=2, opacity=1)
                 .encode(x=alt.value(25), y=alt.value(229.5)))
p3_layers.append(text("inspirals", 34, 229.5, 13.5))
p3_layers.append(alt.Chart(ONE).mark_rule(color="black", strokeWidth=2, strokeDash=[7, 4])
                 .encode(x=alt.value(26), x2=alt.value(76), y=alt.value(248)))
p3_layers += rich([("IMS(r", "n"), ("min", "s"), ("=2r", "n"), ("NS", "s"), (")", "n")], 85, 248, 13.5)
p3_layers.append(alt.Chart(ONE).mark_rule(color="black", strokeWidth=2.3)
                 .encode(x=alt.value(26), x2=alt.value(76), y=alt.value(267)))
p3_layers += rich([("IMS(t", "n"), ("life", "s"), ("=t", "n"), ("iso", "s"), (")", "n")], 85, 267, 13.5)
p3_layers.append(ptitle("Numerical Example: NS inspirals", -8))
p3 = alt.layer(*p3_layers).properties(width=W, height=H)

chart = (alt.vconcat(p1, p2, p3, spacing=27.3)
         .properties(padding={"left": 0, "top": -7.2, "right": 0, "bottom": 0})
         .configure_view(stroke=INK, strokeWidth=1.4))

chart.save("out.html", embed_options={"renderer": "svg", "actions": False})
